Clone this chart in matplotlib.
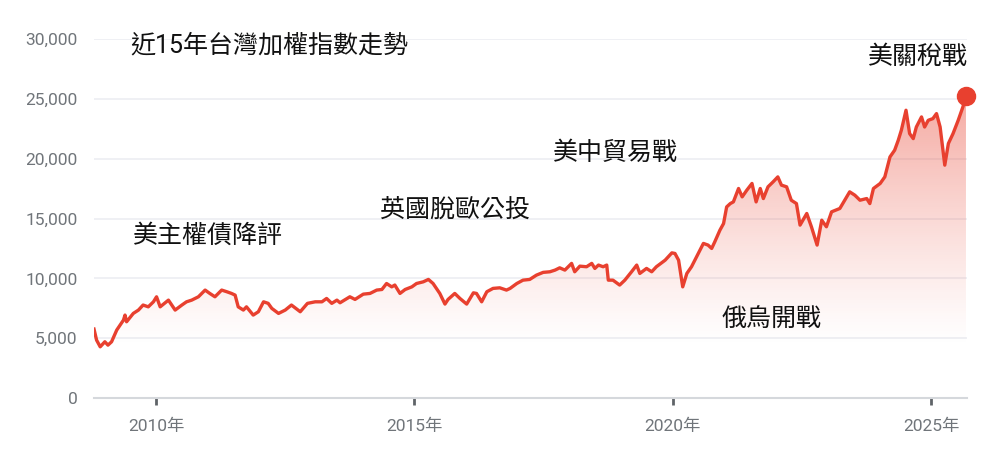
import numpy as np
import matplotlib
matplotlib.use("Agg")
import matplotlib.pyplot as plt
from matplotlib.patches import PathPatch

plt.rcParams['font.family'] = ['Roboto', 'Noto Sans CJK TC', 'DejaVu Sans']

# TAIEX, decimal year -> index level
years = [
    2008.80, 2008.85, 2008.92, 2009.01, 2009.07, 2009.14, 2009.24, 2009.37, 2009.40, 2009.43,
    2009.56, 2009.66, 2009.75, 2009.85, 2009.95, 2010.01, 2010.08, 2010.24, 2010.37, 2010.50,
    2010.59, 2010.69, 2010.82, 2010.95, 2011.04, 2011.14, 2011.27, 2011.37, 2011.46, 2011.53,
    2011.59, 2011.69, 2011.75, 2011.88, 2011.98, 2012.08, 2012.17, 2012.24, 2012.37, 2012.50,
    2012.62, 2012.79, 2012.93, 2013.08, 2013.21, 2013.30, 2013.40, 2013.50, 2013.56, 2013.75,
    2013.85, 2014.01, 2014.14, 2014.27, 2014.37, 2014.46, 2014.56, 2014.62, 2014.72, 2014.82,
    2014.95, 2015.04, 2015.17, 2015.27, 2015.36, 2015.49, 2015.59, 2015.65, 2015.78, 2015.88,
    2016.01, 2016.14, 2016.20, 2016.30, 2016.40, 2016.52, 2016.65, 2016.78, 2016.85, 2016.91,
    2016.98, 2017.10, 2017.23, 2017.36, 2017.49, 2017.62, 2017.72, 2017.81, 2017.91, 2018.04,
    2018.10, 2018.20, 2018.33, 2018.43, 2018.49, 2018.56, 2018.65, 2018.72, 2018.75, 2018.84,
    2018.97, 2019.07, 2019.20, 2019.30, 2019.36, 2019.49, 2019.59, 2019.68, 2019.85, 2019.98,
    2020.04, 2020.11, 2020.19, 2020.27, 2020.36, 2020.49, 2020.59, 2020.68, 2020.75, 2020.81,
    2020.91, 2020.98, 2021.04, 2021.11, 2021.17, 2021.27, 2021.34, 2021.43, 2021.53, 2021.61,
    2021.69, 2021.75, 2021.84, 2021.94, 2022.03, 2022.10, 2022.20, 2022.29, 2022.39, 2022.46,
    2022.59, 2022.68, 2022.79, 2022.88, 2022.97, 2023.07, 2023.23, 2023.42, 2023.52, 2023.62,
    2023.75, 2023.81, 2023.88, 2024.01, 2024.10, 2024.20, 2024.29, 2024.36, 2024.42, 2024.51,
    2024.58, 2024.65, 2024.71, 2024.81, 2024.87, 2024.94, 2025.03, 2025.10, 2025.17, 2025.26,
    2025.33, 2025.42, 2025.52, 2025.61, 2025.67,
]
index = [
    5760, 4840, 4280, 4700, 4420, 4700, 5680, 6510, 6930, 6370,
    7070, 7350, 7770, 7620, 8040, 8460, 7620, 8180, 7350, 7770,
    8040, 8180, 8460, 9020, 8740, 8460, 9020, 8880, 8740, 8600,
    7620, 7350, 7620, 6930, 7210, 8040, 7910, 7490, 7070, 7350,
    7770, 7210, 7910, 8040, 8040, 8320, 7910, 8180, 7960, 8460,
    8240, 8680, 8740, 9020, 9070, 9570, 9290, 9440, 8740, 9070,
    9290, 9570, 9710, 9910, 9570, 8740, 7850, 8240, 8740, 8320,
    7850, 8790, 8740, 8040, 8880, 9160, 9210, 9020, 9160, 9350,
    9570, 9850, 9910, 10270, 10500, 10550, 10690, 10880, 10690, 11250,
    10550, 11020, 10970, 11250, 10830, 11110, 10970, 11110, 9850, 9850,
    9440, 9850, 10550, 11110, 10410, 10830, 10550, 10970, 11520, 12130,
    12080, 11520, 9290, 10410, 10970, 12080, 12920, 12780, 12500, 13050,
    14030, 14580, 15970, 16250, 16390, 17510, 16810, 17370, 17930, 16390,
    17510, 16670, 17650, 18070, 18480, 17790, 17650, 16530, 16250, 14450,
    15420, 14310, 12780, 14860, 14310, 15560, 15840, 17230, 16950, 16530,
    16670, 16250, 17510, 17930, 18480, 20150, 20710, 21540, 22380, 24050,
    22100, 21680, 22650, 23490, 22650, 23210, 23350, 23770, 22650, 19460,
    21270, 22100, 23210, 24320, 25220,
]

year_ticks = [2010, 2015, 2020, 2025]
y_ticks = [0, 5000, 10000, 15000, 20000, 25000, 30000]

events = ["美主權債降評", "英國脫歐公投", "美中貿易戰", "俄烏開戰", "美關稅戰"]
title = "近15年台灣加權指數走勢"

red = "#e8402f"

fig = plt.figure(figsize=(10, 4.62), dpi=100)
ax = fig.add_axes([0.094, 0.1385, 0.873, 0.777])

x = np.array(years)
y = np.array(index)

# gradient fill under the line
base = y.min()
fill = ax.fill_between(x, y, base, color="none", lw=0)
grad = np.linspace(0, 1, 256) ** 1.2
rgba = np.zeros((256, 1, 4))
rgba[:, 0, 0], rgba[:, 0, 1], rgba[:, 0, 2] = 0.91, 0.25, 0.18
rgba[:, 0, 3] = grad * 0.45
img = ax.imshow(rgba, extent=[x[0], x[-1], base, 25500], origin="lower",
                aspect="auto", zorder=1, interpolation="bilinear")
path = fill.get_paths()[0]
img.set_clip_path(PathPatch(path, transform=ax.transData, visible=False))
ax.set_xlim(x[0], x[-1] + 0.02)
ax.set_ylim(0, 30000)

ax.plot(x, y, color=red, lw=2.4, zorder=3, solid_joinstyle="round")
ax.plot(x[-1], y[-1], "o", color=red, ms=13, zorder=4, clip_on=False)

ax.set_yticks(y_ticks)
ax.set_yticklabels([f"{v:,}" for v in y_ticks])
ax.set_xticks(year_ticks)
ax.set_xticklabels([f"{t}年" for t in year_ticks])
ax.grid(axis="y", color="#eceef2", lw=1.2)
ax.set_axisbelow(True)
for s in ["top", "right", "left"]:
    ax.spines[s].set_visible(False)
ax.spines["bottom"].set_color("#d5d8dc")
ax.spines["bottom"].set_linewidth(1.5)
ax.tick_params(axis="y", length=0, pad=12, labelsize=12.5, labelcolor="#70757a")
ax.tick_params(axis="x", length=5, width=2, color="#5f6368", pad=10,
               labelsize=12.5, labelcolor="#70757a")

# annotations (figure pixel positions)
W, H = 1000, 462
fig.text(130 / W, 1 - 45 / H, title, fontsize=18, va="center", color="#111111")
pos = [(133, 236), (380, 210), (553, 153), (722, 320), (868, 57)]
for label, (px, py) in zip(events, pos):
    fig.text(px / W, 1 - py / H, label, fontsize=18, va="center", color="#111111")

fig.savefig("out.png", dpi=100)
